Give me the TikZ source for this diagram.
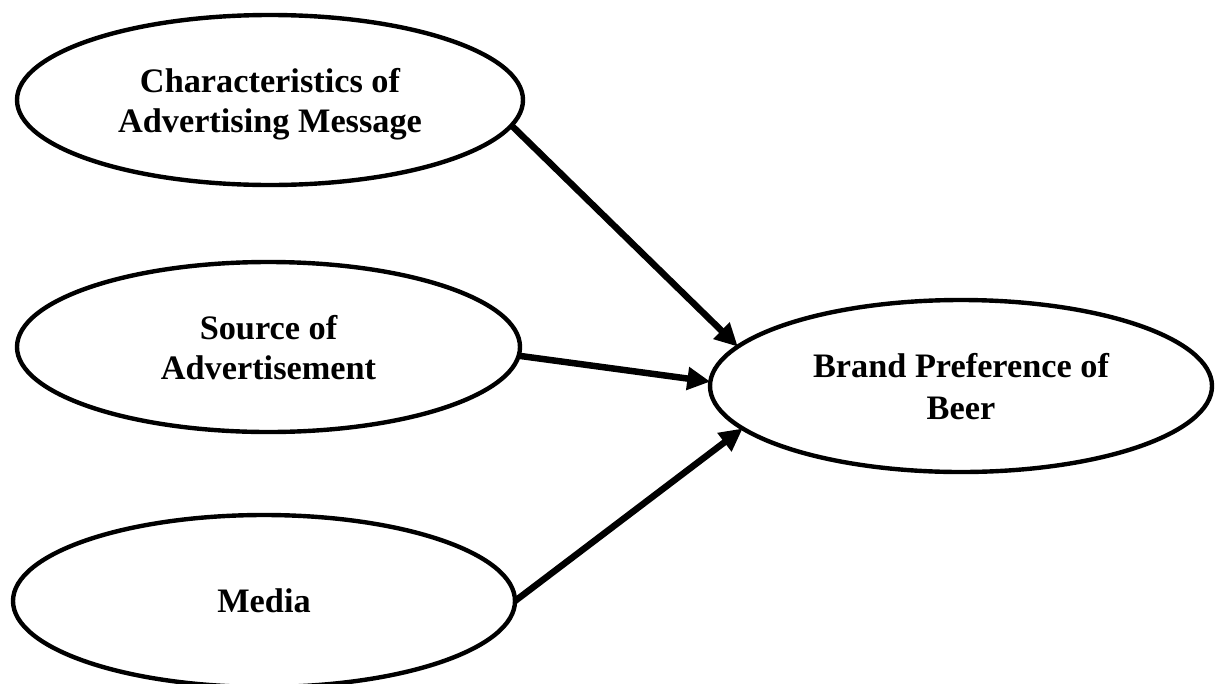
\documentclass[tikz,border=0pt]{standalone}
\usepackage{fontspec}
\setmainfont{Liberation Serif}
\usetikzlibrary{shapes.geometric,arrows.meta}
\begin{document}
\begin{tikzpicture}[x=1pt,y=-1pt,
  oval/.style={ellipse,draw=black,line width=4.4pt,inner sep=0pt,outer sep=0pt,
    align=center,text depth=0pt,
    font=\fontsize{34.3}{40}\selectfont\bfseries},
  conn/.style={line width=6.5pt,-{Triangle[length=23pt,width=22pt]}}]
\useasboundingbox (0,0) rectangle (1217,683);
\node[oval,minimum width=506pt,minimum height=170pt] (e1) at (270,100)
  {Characteristics of\\Advertising Message};
\node[oval,minimum width=503pt,minimum height=170pt] (e2) at (268.5,347)
  {Source of\\Advertisement};
\node[oval,minimum width=502pt,minimum height=172pt] (e3) at (264,601)
  {Media};
\node[oval,minimum width=502pt,minimum height=172pt,
  font=\fontsize{34.3}{42}\selectfont\bfseries] (e4) at (961,386)
  {Brand Preference of\\Beer};
\draw[conn] (e1.-6) -- (e4.170);
\draw[conn] (e2.-2) -- (e4.179);
\draw[conn] (e3.east) -- (e4.191);
\end{tikzpicture}
\end{document}
